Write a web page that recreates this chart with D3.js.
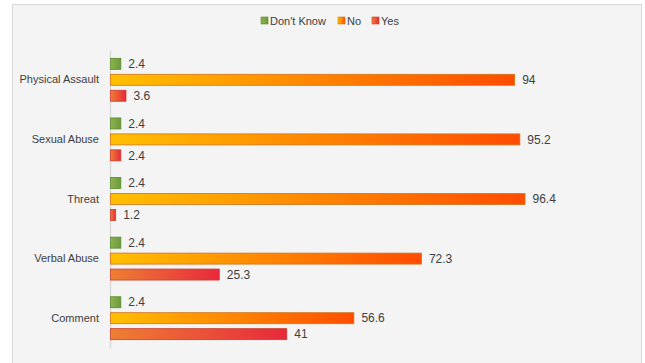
<!DOCTYPE html>
<html>
<head>
<meta charset="utf-8">
<script src="https://cdn.jsdelivr.net/npm/d3@7"></script>
<style>
  body { margin: 0; background: #fff; }
  svg text { font-family: "Liberation Sans", Arial, sans-serif; font-size: 11px; fill: #404040; }
</style>
</head>
<body>
<div id="chart"></div>
<script>
var categories = ["Physical Assault", "Sexual Abuse", "Threat", "Verbal Abuse", "Comment"];
var seriesNames = ["Don't Know", "No", "Yes"];
var dontKnow = [2.4, 2.4, 2.4, 2.4, 2.4];
var no = [94, 95.2, 96.4, 72.3, 56.6];
var yes = [3.6, 2.4, 1.2, 25.3, 41];

var seriesValues = [dontKnow, no, yes];
var data = categories.map(function(c, i) {
  return { type: c, values: seriesNames.map(function(s, j) { return { name: s, value: seriesValues[j][i] }; }) };
});

var width = 645, height = 363;

var svg = d3.select("#chart").append("svg")
    .attr("width", width)
    .attr("height", height);

// gradients
var defs = svg.append("defs");
var grads = [
  { id: "g0", from: "#8fb24f", to: "#6b9a3a", stroke: "#5b8a2e" },
  { id: "g1", from: "#ffc000", to: "#ff4c00", stroke: "#d0741a" },
  { id: "g2", from: "#ee7f33", to: "#e8283c", stroke: "#c9402a" }
];
grads.forEach(function(g) {
  var lg = defs.append("linearGradient").attr("id", g.id)
      .attr("x1", "0%").attr("x2", "100%").attr("y1", "0%").attr("y2", "0%");
  lg.append("stop").attr("offset", "0%").attr("stop-color", g.from);
  lg.append("stop").attr("offset", "100%").attr("stop-color", g.to);
});

// frame
svg.append("rect")
    .attr("x", 12.5).attr("y", 4.5)
    .attr("width", 629).attr("height", 370)
    .attr("fill", "#f4f4f4")
    .attr("stroke", "#d9d9d9");

var x = d3.scaleLinear().domain([0, 100]).range([110, 540]);

var y0 = d3.scaleBand().domain(categories).range([50, 348])
    .paddingInner(0.28).paddingOuter(0.14);
var y1 = d3.scaleBand().domain(seriesNames).range([0, y0.bandwidth()]).paddingInner(0.31);

// axis
var yAxis = d3.axisLeft(y0).tickSize(0).tickPadding(11);
var ax = svg.append("g")
    .attr("transform", "translate(" + x(0) + ",0)")
    .call(yAxis);
ax.select(".domain").attr("stroke", "#d9d9d9").attr("stroke-width", 1.5);
ax.selectAll("text").style("font-size", "11px").attr("fill", "#404040");

var slice = svg.selectAll(".slice")
    .data(data)
  .enter().append("g")
    .attr("class", "slice")
    .attr("transform", function(d) { return "translate(0," + y0(d.type) + ")"; });

slice.selectAll("rect")
    .data(function(d) { return d.values; })
  .enter().append("rect")
    .attr("x", x(0) + 0.5)
    .attr("y", function(d) { return y1(d.name); })
    .attr("width", function(d) { return x(d.value) - x(0); })
    .attr("height", y1.bandwidth())
    .attr("fill", function(d, i) { return "url(#" + grads[i].id + ")"; })
    .attr("stroke", function(d, i) { return grads[i].stroke; })
    .attr("stroke-width", 0.8);

slice.selectAll("text")
    .data(function(d) { return d.values; })
  .enter().append("text")
    .attr("x", function(d) { return x(d.value) + 8; })
    .attr("y", function(d) { return y1(d.name) + y1.bandwidth() / 2; })
    .attr("dy", ".35em")
    .style("font-size", "12px")
    .text(function(d) { return d.value; });

// legend
var legendX = [261, 338, 372];
var legend = svg.selectAll(".legend")
    .data(seriesNames)
  .enter().append("g")
    .attr("class", "legend")
    .attr("transform", function(d, i) { return "translate(" + legendX[i] + ",17)"; });

legend.append("rect")
    .attr("width", 7).attr("height", 7)
    .attr("fill", function(d, i) { return "url(#" + grads[i].id + ")"; })
    .attr("stroke", function(d, i) { return grads[i].stroke; })
    .attr("stroke-width", 0.6);

legend.append("text")
    .attr("x", 9)
    .attr("y", 4)
    .attr("dy", ".35em")
    .text(function(d) { return d; });
</script>
</body>
</html>
